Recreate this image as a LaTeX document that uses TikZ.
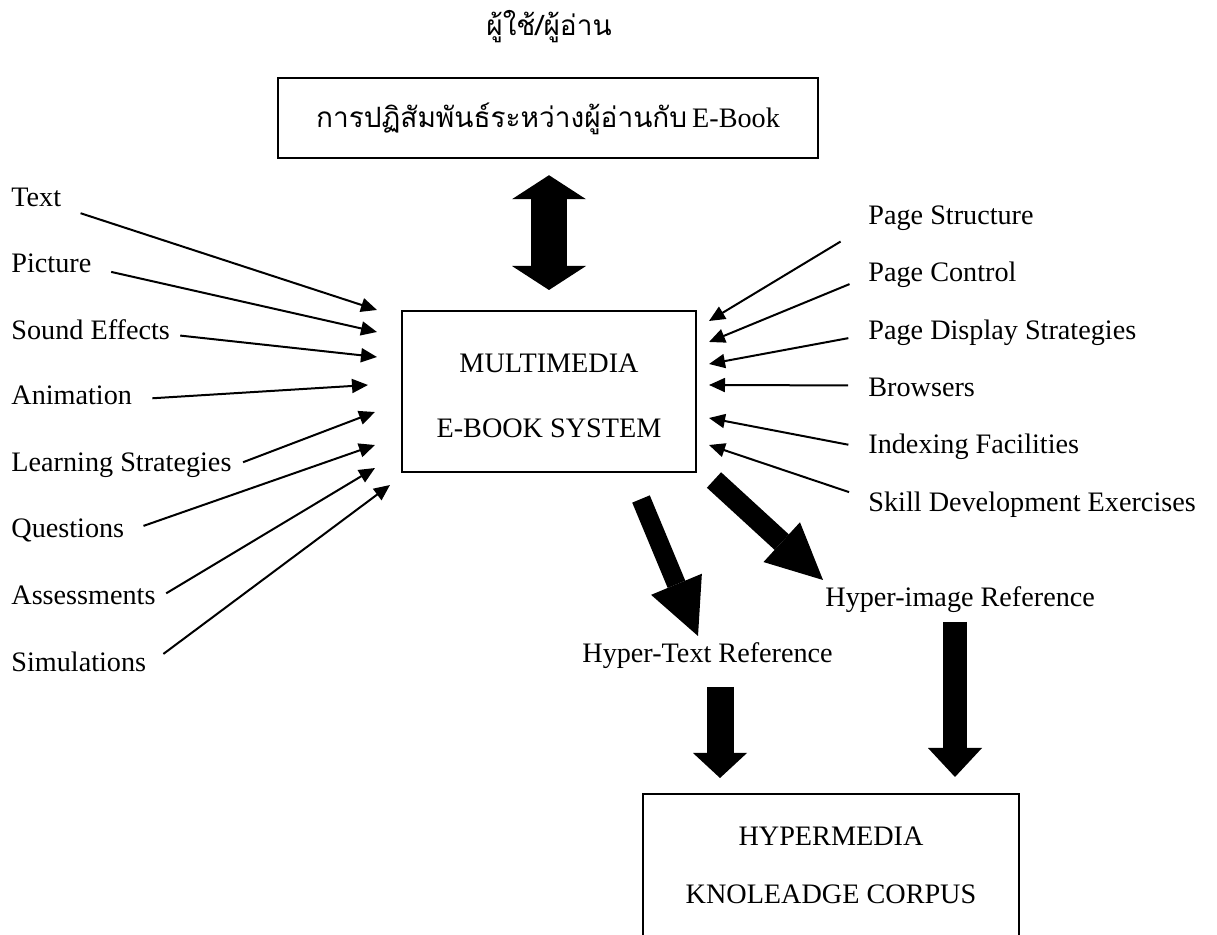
\documentclass[tikz,border=0pt]{standalone}
\usepackage{fontspec}
\setmainfont{Liberation Serif}
\newfontfamily\thaifont[Script=Thai]{Loma}
\usetikzlibrary{arrows.meta}
\begin{document}
\begin{tikzpicture}[x=0.5pt,y=-0.5pt,
  lbl/.style={inner sep=0pt, text height=5.5pt, text depth=0pt, font=\fontsize{14.1}{17}\selectfont},
  ttl/.style={inner sep=0pt, font=\fontsize{14.1}{17}\selectfont},
  box/.style={draw, line width=1pt, inner sep=0pt},
  inarr/.style={line width=1pt, -{Triangle[length=8pt,width=7pt]}},
  fat/.style n args={3}{line width=#1, -{Triangle[length=#2,width=#3,line width=0pt]}},
  dfat/.style n args={3}{line width=#1, {Triangle[length=#2,width=#3,line width=0pt]}-{Triangle[length=#2,width=#3,line width=0pt]}}
]
\useasboundingbox (0,0) rectangle (1217,935);
\clip (0,0) rectangle (1217,935);

% top
\node[inner sep=0pt, anchor=base, font=\thaifont\fontsize{14}{16}\selectfont] (user) at (549,36) {ผู้ใช้/ผู้อ่าน};
\node[box, line width=1.2pt, minimum width=270pt, minimum height=40pt, text height=12pt, text depth=2pt] (inter) at (548,118)
  {{\thaifont\fontsize{14}{16}\selectfont การปฏิสัมพันธ์ระหว่างผู้อ่านกับ} {\fontsize{14.1}{17}\selectfont E-Book}};

% main box
\node[box, minimum width=147pt, minimum height=80.5pt] (main) at (549,391.5) {};
\node[ttl, anchor=base] (mm1) at (549,373) {MULTIMEDIA};
\node[ttl, anchor=base] (mm2) at (549,438) {E-BOOK SYSTEM};

% corpus box
\node[box, minimum width=188pt, minimum height=100pt] (corpus) at (831,894) {};
\node[ttl, anchor=base] (hc1) at (831,845) {HYPERMEDIA};
\node[ttl, anchor=base] (hc2) at (831,903) {KNOLEADGE CORPUS};

% left labels
\node[lbl, anchor=base west] (l1) at (11,207) {Text};
\node[lbl, anchor=base west] (l2) at (11,273) {Picture};
\node[lbl, anchor=base west] (l3) at (11,340) {Sound Effects};
\node[lbl, anchor=base west] (l4) at (11,405) {Animation};
\node[lbl, anchor=base west] (l5) at (11,472) {Learning Strategies};
\node[lbl, anchor=base west] (l6) at (11,538) {Questions};
\node[lbl, anchor=base west] (l7) at (11,605) {Assessments};
\node[lbl, anchor=base west] (l8) at (11,672) {Simulations};

% right labels
\node[lbl, anchor=base west] (r1) at (868,225) {Page Structure};
\node[lbl, anchor=base west] (r2) at (868,282) {Page Control};
\node[lbl, anchor=base west] (r3) at (868,340) {Page Display Strategies};
\node[lbl, anchor=base west] (r4) at (868,397) {Browsers};
\node[lbl, anchor=base west] (r5) at (868,454) {Indexing Facilities};
\node[lbl, anchor=base west] (r6) at (868,512) {Skill Development Exercises};

% references
\node[lbl, anchor=base west] (htr) at (582,663) {Hyper-Text Reference};
\node[lbl, anchor=base west] (hir) at (825,607) {Hyper-image Reference};

% arrow tips (free ends)
\coordinate (t1) at (377,310);
\coordinate (t2) at (377,332);
\coordinate (t3) at (377,357);
\coordinate (t4) at (368,385);
\coordinate (t5) at (375,412);
\coordinate (t6) at (375,445);
\coordinate (t7) at (375,468);
\coordinate (t8) at (390,485);
\coordinate (u1) at (709,321);
\coordinate (u2) at (709,342);
\coordinate (u3) at (709,364);
\coordinate (u4) at (709,385);
\coordinate (u5) at (709,418);
\coordinate (u6) at (709,445);

% left arrows
\draw[inarr, shorten <=10pt] (l1.base east) -- (t1);
\draw[inarr, shorten <=10pt] (l2.east) -- (t2);
\draw[inarr, shorten <=5pt] (l3.east) -- (t3);
\draw[inarr, shorten <=10pt] (l4.east) -- (t4);
\draw[inarr, shorten <=6pt] (l5.east) -- (t5);
\draw[inarr, shorten <=10pt] (l6.east) -- (t6);
\draw[inarr, shorten <=6pt] (l7.east) -- (t7);
\draw[inarr, shorten <=10.5pt] (l8.east) -- (t8);

% right arrows
\draw[inarr, shorten <=16pt] (r1.base west) -- (u1);
\draw[inarr, shorten <=10pt] (r2.west) -- (u2);
\draw[inarr, shorten <=10pt] (r3.west) -- (u3);
\draw[inarr, shorten <=10pt] ([yshift=3pt]r4.west) -- (u4);
\draw[inarr, shorten <=10pt] (r5.west) -- (u5);
\draw[inarr, shorten <=10pt] ([yshift=4pt]r6.west) -- (u6);

% big arrows
\draw[dfat={18pt}{12pt}{37pt}, shorten <=8pt, shorten >=10pt] (inter.south -| main.north) -- (main.north);
\coordinate (hts) at (641,499);
\coordinate (hte) at (698,636);
\draw[fat={9.5pt}{28pt}{27.5pt}] (hts) -- (hte);
\coordinate (his) at (714,480);
\coordinate (hie) at (823,580);
\draw[fat={10.5pt}{28pt}{27pt}] (his) -- (hie);
\coordinate (d1s) at (720,687);
\coordinate (d1e) at (720,778);
\draw[fat={13.5pt}{12.5pt}{27pt}] (d1s) -- (d1e);
\coordinate (d2s) at (955,622);
\coordinate (d2e) at (955,777);
\draw[fat={12pt}{14.5pt}{27pt}] (d2s) -- (d2e);
\end{tikzpicture}
\end{document}
